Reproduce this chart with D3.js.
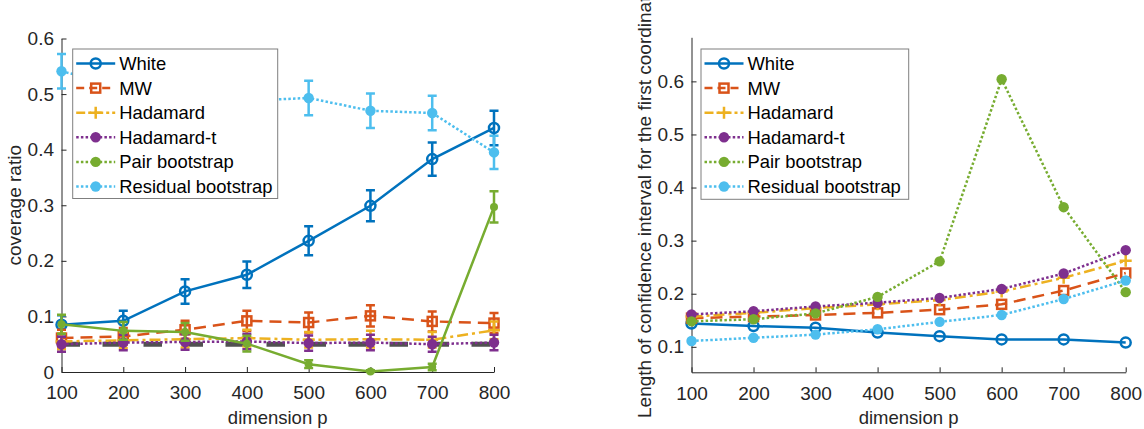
<!DOCTYPE html>
<html><head><meta charset="utf-8">
<script src="https://cdn.jsdelivr.net/npm/d3@7"></script>
<style>
body{margin:0;background:#fff;}
svg{display:block;font-family:"Liberation Sans",Arial,sans-serif;}
</style></head>
<body><svg id="c" width="1144" height="429"></svg>
<script>
// ---------- data ----------
const dims = [100, 200, 300, 400, 500, 600, 700, 800];
const seriesNames = ["White", "MW", "Hadamard", "Hadamard-t", "Pair bootstrap", "Residual bootstrap"];
const xTicks = [100, 200, 300, 400, 500, 600, 700, 800];
const leftYTicks = [0, 0.1, 0.2, 0.3, 0.4, 0.5, 0.6];
const rightYTicks = [0.1, 0.2, 0.3, 0.4, 0.5, 0.6];
const nominalLevel = 0.05;

// coverage (left panel) with error bar half-widths
const covWhite = [0.085, 0.092, 0.145, 0.175, 0.236, 0.299, 0.383, 0.439];
const covWhiteErr = [0.017, 0.018, 0.022, 0.024, 0.026, 0.028, 0.030, 0.031];
const covMW = [0.061, 0.064, 0.076, 0.092, 0.089, 0.101, 0.091, 0.088];
const covMWErr = [0.015, 0.015, 0.016, 0.018, 0.018, 0.019, 0.018, 0.018];
const covHad = [0.055, 0.057, 0.059, 0.061, 0.058, 0.059, 0.058, 0.075];
const covHadErr = [0.014, 0.014, 0.015, 0.015, 0.014, 0.015, 0.014, 0.016];
const covHadT = [0.050, 0.053, 0.054, 0.055, 0.052, 0.053, 0.050, 0.053];
const covHadTErr = [0.0135, 0.014, 0.014, 0.014, 0.0138, 0.014, 0.0135, 0.014];
const covPair = [0.086, 0.074, 0.072, 0.051, 0.014, 0.001, 0.009, 0.297];
const covPairErr = [0.017, 0.016, 0.016, 0.014, 0.007, 0.002, 0.006, 0.028];
const covResid = [0.541, 0.515, 0.488, 0.488, 0.493, 0.470, 0.466, 0.395];
const covResidErr = [0.031, 0.031, 0.031, 0.031, 0.031, 0.031, 0.031, 0.030];

// CI length (right panel)
const lenWhite = [0.144, 0.139, 0.136, 0.127, 0.120, 0.114, 0.114, 0.108];
const lenMW = [0.154, 0.157, 0.160, 0.164, 0.170, 0.180, 0.206, 0.239];
const lenHad = [0.157, 0.164, 0.173, 0.180, 0.188, 0.204, 0.230, 0.262];
const lenHadT = [0.161, 0.167, 0.176, 0.183, 0.192, 0.209, 0.238, 0.282];
const lenPair = [0.148, 0.152, 0.163, 0.194, 0.261, 0.604, 0.363, 0.203];
const lenResid = [0.111, 0.117, 0.123, 0.133, 0.147, 0.160, 0.190, 0.225];

// ---------- styles ----------
const colors = ["#0072BD", "#D95319", "#EDB120", "#7E2F8E", "#77AC30", "#4DBEEE"];
const dashes = [null, "12,7", "11,4,3,4", "2.5,2.2", "2.5,2.2", "2.5,2.2"];
const markers = ["circle", "square", "plus", "dot", "dot", "dot"];
const LW = 2.5;
const axisColor = "#262626";
const tickFont = 19, labelFont = 19, legendFont = 18.4;

const svg = d3.select("#c");

function drawMarker(g, type, cx, cy, color, small) {
  if (type === "circle") {
    g.append("circle").attr("cx", cx).attr("cy", cy).attr("r", 5)
      .attr("fill", "none").attr("stroke", color).attr("stroke-width", LW);
  } else if (type === "square") {
    g.append("rect").attr("x", cx - 4.5).attr("y", cy - 4.5).attr("width", 9).attr("height", 9)
      .attr("fill", "none").attr("stroke", color).attr("stroke-width", LW);
  } else if (type === "plus") {
    g.append("path").attr("d", `M${cx-6},${cy}H${cx+6}M${cx},${cy-6}V${cy+6}`)
      .attr("stroke", color).attr("stroke-width", LW);
  } else {
    g.append("circle").attr("cx", cx).attr("cy", cy).attr("r", small ? 4 : 5.2).attr("fill", color);
  }
}

function axes(x, y, yTicks, yFmt) {
  const h = y.range()[0];
  const left = x.range()[0];
  const gx = svg.append("g").attr("transform", `translate(0,${h})`)
    .call(d3.axisBottom(x).tickValues(xTicks).tickSizeInner(-5).tickSizeOuter(0).tickPadding(14).tickFormat(d3.format("d")));
  const gy = svg.append("g").attr("transform", `translate(${left},0)`)
    .call(d3.axisLeft(y).tickValues(yTicks).tickSizeInner(-5).tickSizeOuter(0).tickPadding(7.5).tickFormat(yFmt));
  [gx, gy].forEach(g => {
    g.select(".domain").attr("stroke", axisColor).attr("stroke-width", 1);
    g.selectAll(".tick line").attr("stroke", axisColor).attr("stroke-width", 1);
    g.selectAll(".tick text").attr("fill", axisColor).attr("font-size", tickFont).attr("font-family", "Liberation Sans, Arial, sans-serif");
  });
}

function legend(x0, y0, w, h) {
  const g = svg.append("g");
  g.append("rect").attr("x", x0).attr("y", y0).attr("width", w).attr("height", h)
    .attr("fill", "#fff").attr("stroke", "#7f7f7f").attr("stroke-width", 1);
  seriesNames.forEach((name, i) => {
    const cy = y0 + 14.5 + i * 24.6;
    const lx0 = x0 + 3.5, lx1 = x0 + 42.5;
    g.append("line").attr("x1", lx0).attr("x2", lx1).attr("y1", cy).attr("y2", cy)
      .attr("stroke", colors[i]).attr("stroke-width", LW)
      .attr("stroke-dasharray", i === 1 ? "8,5" : i === 2 ? "9,3,3,3" : dashes[i]);
    drawMarker(g, markers[i], (lx0 + lx1) / 2, cy, colors[i], false);
    g.append("text").attr("x", x0 + 46.5).attr("y", cy).attr("dy", "0.35em")
      .attr("font-size", legendFont).attr("fill", "#000").text(name);
  });
}

// ---------- left panel ----------
{
  const x = d3.scaleLinear().domain([100, 800]).range([61.5, 494]);
  const y = d3.scaleLinear().domain([0, 0.6]).range([372, 38.5]);
  axes(x, y, leftYTicks, d => d === 0 ? "0" : d3.format(".1f")(d));

  const ref = svg.append("g");
  ref.append("line").attr("x1", x(100)).attr("x2", x(800)).attr("y1", y(nominalLevel)).attr("y2", y(nominalLevel))
    .attr("stroke", "#262626").attr("stroke-opacity", 0.8).attr("stroke-width", 5).attr("stroke-dasharray", "18.5,22.5");

  const sets = [
    [covWhite, covWhiteErr], [covMW, covMWErr], [covHad, covHadErr],
    [covHadT, covHadTErr], [covPair, covPairErr], [covResid, covResidErr]
  ];
  const dashL = [null, "12,7", "11,4,3,4", "2.5,2.2", null, "2.5,2.2"];
  sets.forEach(([vals, errs], i) => {
    const g = svg.append("g");
    const line = d3.line().x((d, k) => x(dims[k])).y(d => y(d));
    g.append("path").datum(vals).attr("d", line).attr("fill", "none")
      .attr("stroke", colors[i]).attr("stroke-width", LW).attr("stroke-dasharray", dashL[i]);
    vals.forEach((v, k) => {
      const cx = x(dims[k]), y1 = y(v + errs[k]), y2 = y(Math.max(0, v - errs[k]));
      g.append("path").attr("d", `M${cx},${y1}V${y2}M${cx-4.5},${y1}H${cx+4.5}M${cx-4.5},${y2}H${cx+4.5}`)
        .attr("stroke", colors[i]).attr("stroke-width", LW).attr("fill", "none");
      drawMarker(g, markers[i], cx, y(v), colors[i], i === 4);
    });
  });

  svg.append("text").attr("x", (61.5 + 494) / 2).attr("y", 424).attr("text-anchor", "middle")
    .attr("font-size", 18.5).attr("fill", axisColor).text("dimension p");
  svg.append("text").attr("transform", `translate(21,${(372 + 38.5) / 2}) rotate(-90)`).attr("text-anchor", "middle")
    .attr("font-size", labelFont).attr("fill", axisColor).text("coverage ratio");

  legend(72.7, 49, 205, 149.5);
}

// ---------- right panel ----------
{
  const x = d3.scaleLinear().domain([100, 800]).range([691.5, 1125.7]);
  const y = d3.scaleLinear().domain([0.052, 0.683]).range([372.3, 37.3]);
  axes(x, y, rightYTicks, d3.format(".1f"));

  const sets = [lenWhite, lenMW, lenHad, lenHadT, lenPair, lenResid];
  sets.forEach((vals, i) => {
    const g = svg.append("g");
    const line = d3.line().x((d, k) => x(dims[k])).y(d => y(d));
    g.append("path").datum(vals).attr("d", line).attr("fill", "none")
      .attr("stroke", colors[i]).attr("stroke-width", LW).attr("stroke-dasharray", dashes[i]);
    vals.forEach((v, k) => drawMarker(g, markers[i], x(dims[k]), y(v), colors[i], false));
  });

  svg.append("text").attr("x", (691.5 + 1125.7) / 2).attr("y", 424).attr("text-anchor", "middle")
    .attr("font-size", 18.5).attr("fill", axisColor).text("dimension p");
  svg.append("text").attr("transform", `translate(651,202) rotate(-90)`).attr("text-anchor", "middle")
    .attr("font-size", labelFont).attr("fill", axisColor).text("Length of confidence interval for the first coordinate");

  legend(701, 49, 207.7, 150.3);
}
</script></body></html>
